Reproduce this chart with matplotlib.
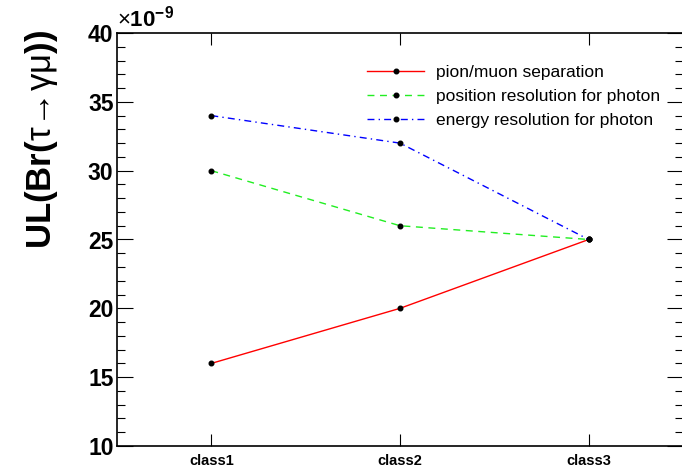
import matplotlib
matplotlib.use('Agg')
import matplotlib.pyplot as plt
from matplotlib.ticker import MultipleLocator

plt.rcParams['font.family'] = ['Liberation Sans', 'DejaVu Sans']
plt.rcParams['mathtext.fontset'] = 'custom'
plt.rcParams['mathtext.rm'] = 'Liberation Sans'
plt.rcParams['mathtext.bf'] = 'Liberation Sans:bold'
plt.rcParams['mathtext.it'] = 'Liberation Sans:italic'

# values in units of 1e-9
classes = ['class1', 'class2', 'class3']
pion_muon = [16, 20, 25]
position_res = [30, 26, 25]
energy_res = [34, 32, 25]

x = [1, 2, 3]

fig = plt.figure(figsize=(6.82, 4.69), dpi=100)
ax = fig.add_axes([117 / 682, 1 - 446 / 469, 1.0015 - 117 / 682, (446 - 33) / 469])

ax.plot(x, pion_muon, color='red', lw=1.0, ls='-', marker='o', ms=3.3,
        mfc='black', mec='black', label='pion/muon separation')
ax.plot(x, position_res, color='#22ee22', lw=1.0, ls=(0, (5, 4)), marker='o', ms=3.3,
        mfc='black', mec='black', label='position resolution for photon')
ax.plot(x, energy_res, color='blue', lw=1.0, ls=(0, (5, 3, 1, 3)), marker='o', ms=3.3,
        mfc='black', mec='black', label='energy resolution for photon')

ax.set_xlim(0.5, 3.5)
ax.set_ylim(10, 40)
ax.set_xticks(x)
ax.set_xticklabels(classes, fontsize=10.5, fontweight='bold')
ax.yaxis.set_major_locator(MultipleLocator(5))
ax.yaxis.set_minor_locator(MultipleLocator(1))
ax.tick_params(axis='y', which='major', direction='in', length=11.5, width=0.8,
               left=True, right=True, labelsize=16.5, pad=2.5)
ax.tick_params(axis='y', which='minor', direction='in', length=5.8, width=0.8,
               left=True, right=True)
ax.tick_params(axis='x', which='major', direction='in', length=8.5, width=0.8,
               top=True, bottom=True, pad=6)
for lab in ax.get_yticklabels():
    lab.set_fontweight('bold')
for sp in ax.spines.values():
    sp.set_linewidth(1.2)

# y title sits at the top end of the axis, ROOT style
fig.text(42 / 682, 1 - 30 / 469,
         r'$\mathbf{UL(Br(}\mathrm{\tau\!\rightarrow\!\gamma\mu}\mathbf{))}$',
         fontsize=25, rotation=90, ha='center', va='top')

fig.text(117 / 682, 1 - 19 / 469, r'$\times\mathbf{10}^{\mathbf{-9}}$',
         fontsize=16, ha='left', va='center')

ax.legend(loc='upper left', bbox_to_anchor=(367 / 682, 1 - 65 / 469),
          bbox_transform=fig.transFigure, frameon=False, fontsize=12.5,
          handlelength=3.3, handletextpad=0.7, labelspacing=0.5,
          borderpad=0, borderaxespad=0)

fig.savefig('out.png', dpi=100)
